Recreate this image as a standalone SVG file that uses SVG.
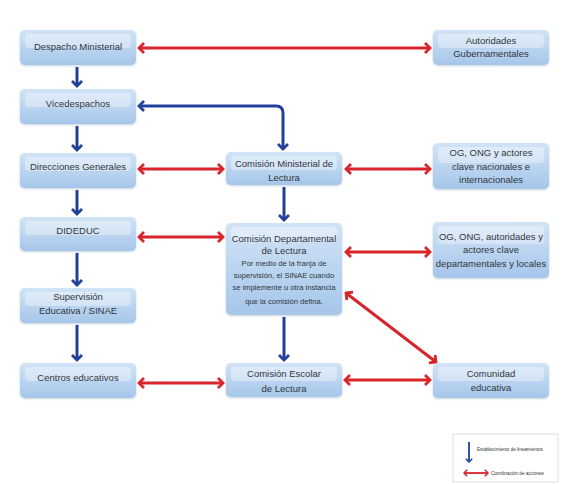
<svg xmlns="http://www.w3.org/2000/svg" width="575" height="484" viewBox="0 0 575 484">
<defs>
<linearGradient id="g" x1="0" y1="0" x2="0" y2="1">
<stop offset="0" stop-color="#d2e4f6"/>
<stop offset="1" stop-color="#a5c6ea"/>
</linearGradient>
<filter id="sh" x="-10%" y="-10%" width="120%" height="130%">
<feDropShadow dx="0" dy="1" stdDeviation="1" flood-color="#6080a0" flood-opacity="0.35"/>
</filter>
<marker id="bh" viewBox="-2 -7 9 14" refX="5" refY="0" markerWidth="9" markerHeight="14" orient="auto-start-reverse" markerUnits="userSpaceOnUse">
<path d="M0,-5 L5,0 L0,5" fill="none" stroke="#22409a" stroke-width="2.8" stroke-linejoin="miter"/>
</marker>
<marker id="rh" viewBox="-2 -7 9 14" refX="5" refY="0" markerWidth="9" markerHeight="14" orient="auto-start-reverse" markerUnits="userSpaceOnUse">
<path d="M0,-5 L5,0 L0,5" fill="none" stroke="#d8242b" stroke-width="2.8" stroke-linejoin="miter"/>
</marker>
<marker id="bhs" viewBox="-2 -7 9 14" refX="5" refY="0" markerWidth="6" markerHeight="9" orient="auto-start-reverse" markerUnits="userSpaceOnUse">
<path d="M0,-5 L5,0 L0,5" fill="none" stroke="#22409a" stroke-width="2.4"/>
</marker>
<marker id="rhs" viewBox="-2 -7 9 14" refX="5" refY="0" markerWidth="6" markerHeight="9" orient="auto-start-reverse" markerUnits="userSpaceOnUse">
<path d="M0,-5 L5,0 L0,5" fill="none" stroke="#d8242b" stroke-width="2.4"/>
</marker>
</defs>
<style>
.box{fill:url(#g);filter:url(#sh)}
.hl{fill:#ffffff;fill-opacity:0.35}
text{font-family:"Liberation Sans","DejaVu Sans",sans-serif;font-size:9.5px;fill:#30363c;text-anchor:middle}
.sm{font-size:7.6px}
.b{fill:none;stroke:#22409a;stroke-width:3;marker-end:url(#bh)}
.bb{fill:none;stroke:#22409a;stroke-width:3;marker-end:url(#bh);marker-start:url(#bh)}
.r{fill:none;stroke:#d8242b;stroke-width:3;marker-end:url(#rh);marker-start:url(#rh)}
.lg{font-size:4.6px;text-anchor:start}
</style>
<rect width="575" height="484" fill="#ffffff"/>
<g id="connectors">
<path class="r" d="M139,48 H430"/>
<path class="b" d="M77,67 V86"/>
<path class="bb" d="M139,106 H276 Q283,106 283,113 V149"/>
<path class="b" d="M77,126 V150"/>
<path class="r" d="M139,169 H223"/>
<path class="r" d="M346,169 H430"/>
<path class="b" d="M77,190 V214"/>
<path class="b" d="M284,187 V220"/>
<path class="r" d="M139,237 H223"/>
<path class="r" d="M346,252 H430"/>
<path class="b" d="M77,253 V285"/>
<path class="b" d="M77,325 V360"/>
<path class="b" d="M284,317 V360"/>
<path class="r" d="M346,293 L436,362"/>
<path class="r" d="M139,383 H223"/>
<path class="r" d="M345,380 H430"/>
</g>
<g id="n-despacho"><rect class="box" x="20" y="30" width="116" height="35" rx="5"/><rect class="hl" x="25" y="34" width="106" height="14" rx="4"/><text x="78" y="50">Despacho Ministerial</text></g>
<g id="n-vice"><rect class="box" x="20" y="89" width="116" height="35" rx="5"/><rect class="hl" x="25" y="93" width="106" height="14" rx="4"/><text x="78" y="107">Vicedespachos</text></g>
<g id="n-direcciones"><rect class="box" x="20" y="153" width="116" height="35" rx="5"/><rect class="hl" x="25" y="157" width="106" height="14" rx="4"/><text x="78" y="170">Direcciones Generales</text></g>
<g id="n-dideduc"><rect class="box" x="20" y="217" width="116" height="34" rx="5"/><rect class="hl" x="25" y="221" width="106" height="14" rx="4"/><text x="78" y="234">DIDEDUC</text></g>
<g id="n-supervision"><rect class="box" x="20" y="288" width="116" height="35" rx="5"/><rect class="hl" x="25" y="292" width="106" height="14" rx="4"/><text x="78" y="300">Supervisión</text><text x="78" y="314">Educativa / SINAE</text></g>
<g id="n-centros"><rect class="box" x="20" y="363" width="116" height="35" rx="5"/><rect class="hl" x="25" y="367" width="106" height="14" rx="4"/><text x="78" y="381">Centros educativos</text></g>
<g id="n-cml"><rect class="box" x="226" y="152" width="116" height="33" rx="5"/><rect class="hl" x="231" y="156" width="106" height="14" rx="4"/><text x="284" y="167">Comisión Ministerial de</text><text x="284" y="181">Lectura</text></g>
<g id="n-cdl"><rect class="box" x="226" y="223" width="116" height="92" rx="5"/><rect class="hl" x="231" y="227" width="106" height="14" rx="4"/><text x="284" y="242">Comisión Departamental</text><text x="284" y="254">de Lectura</text><text class="sm" x="284" y="266">Por medio de la franja de</text><text class="sm" x="284" y="278">supervisión, el SINAE cuando</text><text class="sm" x="284" y="290">se implemente u otra instancia</text><text class="sm" x="284" y="304">que la comisión defina.</text></g>
<g id="n-cel"><rect class="box" x="226" y="363" width="116" height="34" rx="5"/><rect class="hl" x="231" y="367" width="106" height="14" rx="4"/><text x="284" y="377">Comisión Escolar</text><text x="284" y="392">de Lectura</text></g>
<g id="n-autoridades"><rect class="box" x="433" y="30" width="116" height="35" rx="5"/><rect class="hl" x="438" y="34" width="106" height="14" rx="4"/><text x="491" y="44">Autoridades</text><text x="491" y="57">Gubernamentales</text></g>
<g id="n-ogn"><rect class="box" x="433" y="143" width="116" height="46" rx="5"/><rect class="hl" x="438" y="147" width="106" height="16" rx="4"/><text x="491" y="156">OG, ONG y actores</text><text x="491" y="170">clave nacionales e</text><text x="491" y="183">internacionales</text></g>
<g id="n-ogd"><rect class="box" x="433" y="222" width="116" height="56" rx="5"/><rect class="hl" x="438" y="226" width="106" height="18" rx="4"/><text x="491" y="240">OG, ONG, autoridades y</text><text x="491" y="253">actores clave</text><text x="491" y="267">departamentales y locales</text></g>
<g id="n-comunidad"><rect class="box" x="433" y="363" width="116" height="35" rx="5"/><rect class="hl" x="438" y="367" width="106" height="14" rx="4"/><text x="491" y="377">Comunidad</text><text x="491" y="391">educativa</text></g>
<g id="legend">
<rect x="453" y="434" width="105" height="48" fill="#ffffff" stroke="#d8d8d8" stroke-width="0.8"/>
<path d="M469,442 V462" fill="none" stroke="#22409a" stroke-width="1.8" marker-end="url(#bhs)"/>
<text class="lg" x="477" y="451">Establecimiento de lineamientos</text>
<path d="M464,473 H488" fill="none" stroke="#d8242b" stroke-width="1.8" marker-end="url(#rhs)" marker-start="url(#rhs)"/>
<text class="lg" x="491" y="475">Coordinación de acciones</text>
</g>
</svg>
